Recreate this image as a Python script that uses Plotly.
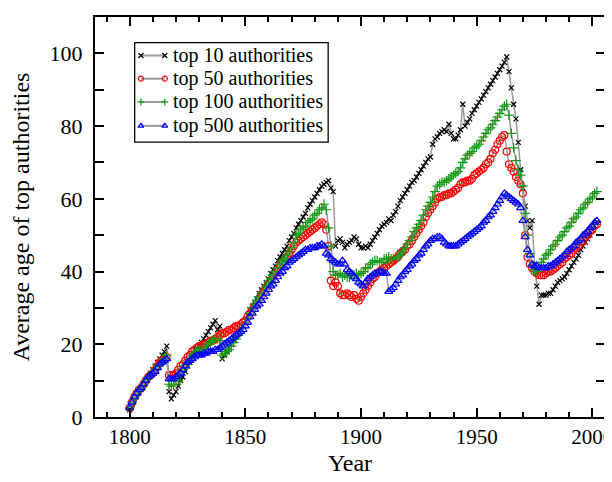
import plotly.graph_objects as go

years = list(range(1800, 2003))

top10 = [
    2, 3.5, 5, 6, 7, 8, 9, 10, 11, 12,
    13, 14, 15, 16, 17, 18, 19.5, 7, 5, 6,
    7, 8.5, 10, 11, 12.5, 14, 15, 16.5, 17.5, 18.5,
    19.5, 20.5, 21.5, 22.5, 23.5, 24.5, 25.5, 26.5, 24, 25,
    16, 17, 18, 19, 20, 21, 22, 23, 24, 25,
    26.5, 28, 29.5, 30.5, 31.5, 32.5, 34, 35, 36, 37,
    38, 39.5, 40.5, 41.5, 43, 44, 45, 46, 47, 48.5,
    49.5, 50.5, 52, 53, 54, 55, 56, 57.5, 58.5, 59.5,
    60.5, 61.5, 62.5, 63.5, 64, 64.5, 65, 63, 62, 47,
    48.5, 49, 48, 46.5, 47.5, 48, 48.5, 49.5, 49, 47.5,
    46.5, 46.5, 47, 46.5, 47.5, 48.5, 49.5, 50.5, 51.5, 52.5,
    53, 53.5, 54.5, 54, 55.5, 56.5, 58, 59.5, 60.5, 61.5,
    62.5, 63.5, 64.5, 65, 66, 67, 68, 69, 70, 71,
    71.5, 75, 76.5, 77, 78, 78.5, 79, 78.5, 80.5, 78,
    76.5, 76.5, 77.5, 79, 86, 80, 81, 82, 83.5, 84.5,
    85.5, 86.5, 87.5, 88.5, 89.5, 90.5, 91.5, 92.5, 93.5, 94.5,
    95.5, 96.5, 97.5, 99, 95, 90.5, 86, 82, 75.5, 68,
    63, 58, 54, 52, 54, 42, 36, 31, 33.5, 33.5,
    33.5, 34, 34, 35, 36, 37, 37.5, 38, 38.5, 39.5,
    40.5, 41.5, 42.5, 43.5, 44.5, 46, 47, 48, 49, 50,
    51.5, 52.5, 53.5,
]

top50 = [
    2.5, 4, 5.5, 6.5, 7.5, 8, 9, 10, 11, 11.5,
    12, 13, 14, 15, 15.5, 16, 16.5, 11.5, 11.5, 11.5,
    12, 13, 14, 14.5, 15.5, 16.5, 17, 18, 18.5, 19,
    19.5, 19.5, 20, 20, 20.5, 21, 21, 21.5, 22, 22.5,
    23, 23, 23.5, 24, 24, 24.5, 25, 25, 25.5, 26,
    26.5, 27.5, 28.5, 29.5, 30.5, 31.5, 32.5, 33.5, 34.5, 35.5,
    36.5, 37.5, 38.5, 39.5, 40.5, 41.5, 42.5, 43.5, 44, 45,
    46, 47, 48, 48.5, 49, 49.5, 50, 50.5, 51, 51.5,
    52, 52.5, 53, 53.5, 53, 51.5, 47, 37.5, 36, 37,
    36, 34, 33.5, 33.5, 34, 33.5, 33, 33.5, 32.5, 32,
    33, 34, 35, 36, 37, 38, 38.5, 39.5, 40, 40.5,
    41, 41.5, 42, 42.5, 43, 43.5, 44, 45, 45.5, 46,
    47, 47.5, 48.5, 49.5, 50.5, 51.5, 52.5, 53.5, 55, 56,
    57, 58, 59, 60, 60.5, 60.5, 61, 61, 61.5, 61.5,
    62, 62.5, 63, 64, 64.5, 64.5, 65, 65, 65.5, 66.5,
    67, 67.5, 68, 68.5, 69.5, 70, 71, 72.5, 73.5, 75,
    76, 77, 77.5, 73, 69.5, 68.5, 67.5, 66, 65, 64,
    61.5, 50, 44, 42, 41, 40, 39.5, 39, 39, 39,
    39.5, 40, 40, 40.5, 41, 41.5, 42, 42.5, 43.5, 44,
    44.5, 45, 46, 46.5, 47, 48, 48.5, 49.5, 50, 51,
    51.5, 52.5, 53,
]

top100 = [
    2.5, 4, 5, 6, 7, 8, 9, 10, 11, 11.5,
    12, 13, 14, 14.5, 15, 16, 17, 9, 8.5, 9,
    10, 10, 11.5, 13, 14, 15, 16, 17, 17.5, 18,
    18.5, 18.5, 19, 19.5, 20, 20.5, 21, 21.5, 21.5, 21,
    17, 17.5, 18, 18.5, 19.5, 20.5, 21.5, 22.5, 23.5, 24.5,
    25.5, 27, 28.5, 30, 31, 32, 33, 34, 35, 36,
    37, 38, 39, 40, 41, 42, 43, 43.5, 44.5, 45.5,
    46.5, 48, 50, 50.5, 51.5, 52, 52.5, 53.5, 54, 54.5,
    55.5, 56, 57, 57.5, 58.5, 57, 52, 47, 40, 39,
    39, 39.5, 38.5, 39, 38.5, 38.5, 39, 39, 39.5, 39,
    39.5, 40, 41, 41, 42, 42.5, 43, 43, 42.5, 42.5,
    43.5, 43.5, 44, 43.5, 43.5, 44, 44, 44.5, 45.5, 46.5,
    47.5, 48.5, 49.5, 51, 52, 53, 54, 55.5, 57, 58,
    59, 60.5, 62, 63.5, 64, 64.5, 64.5, 65, 65.5, 66,
    66.5, 67, 67.5, 68.5, 70, 71, 72, 72.5, 73, 74,
    74.5, 75, 76, 77, 78, 79, 79.5, 80.5, 81.5, 82.5,
    83.5, 84.5, 85.5, 86, 83, 78, 74, 70.5, 68, 66.5,
    63.5, 56, 50, 45, 41.5, 40.5, 40, 41, 42.5, 43.5,
    44.5, 45, 46, 47, 47.5, 48.5, 49.5, 50, 51, 52,
    52.5, 53.5, 54.5, 55, 56, 57, 57.5, 58.5, 59, 60,
    60.5, 61.5, 62,
]

top500 = [
    2.5, 4, 5.5, 6.5, 7.5, 8, 9, 10, 11, 11.5,
    12, 12.5, 13.5, 14.5, 15, 15.5, 16, 10.5, 10.5, 10.5,
    11, 11.5, 12, 13, 14, 15, 15.5, 16, 16.5, 17,
    17, 17, 17.5, 17.5, 18, 18, 18, 18.5, 18.5, 19,
    19.5, 20, 20.5, 21, 21.5, 22, 22.5, 23, 23.5, 24,
    25, 26, 27.5, 28.5, 29.5, 30.5, 31, 32, 33, 34,
    35, 36, 36.5, 37.5, 38.5, 39.5, 40, 41, 41.5, 42.5,
    43, 43.5, 44, 44.5, 45, 45.5, 46, 46, 46.5, 46.5,
    46.5, 47, 47, 47.5, 47, 45, 44.5, 43.5, 43, 42.5,
    42, 42, 43, 42, 40.5, 40, 39.5, 38.5, 38, 37,
    36.5, 36, 37, 38, 38.5, 39, 39.5, 39.5, 40, 40,
    39.5, 39.5, 34.5, 35, 35.5, 36.5, 37.5, 38.5, 39, 40,
    40.5, 41.5, 42, 43, 43.5, 44.5, 45, 46, 47, 47.5,
    48.5, 49, 49, 49.5, 49.5, 49, 48, 47.5, 47, 47,
    47, 47, 47.5, 48, 48.5, 49, 49.5, 50, 50.5, 51,
    51.5, 52, 52.5, 53.5, 54, 55, 55.5, 56.5, 57.5, 58.5,
    59.5, 60.5, 61.5, 61, 60.5, 60, 59.5, 59, 58.5, 57.5,
    54, 49.5, 46, 44.5, 42, 41.5, 41.5, 41, 41, 41,
    41, 41.5, 41.5, 42, 42.5, 43, 43.5, 44, 44.5, 45.5,
    46, 46.5, 47, 48, 48.5, 49, 50, 50.5, 51, 52,
    52.5, 53.5, 54,
]

series_names = ["top 10 authorities", "top 50 authorities",
                "top 100 authorities", "top 500 authorities"]
series_values = [top10, top50, top100, top500]
symbols = ["x-thin-open", "circle-open", "cross-thin-open", "triangle-up-open"]
colors = ["black", "red", "#119911", "blue"]
sizes = [5, 7, 7, 7]
LINE_GRAY = "#9a9a9a"
SERIF = "Liberation Serif, Times New Roman, serif"

fig = go.Figure()
for name, vals, sym, col, sz in zip(series_names, series_values, symbols, colors, sizes):
    fig.add_trace(go.Scatter(
        x=years, y=vals, name=name, mode="lines+markers",
        line=dict(color=LINE_GRAY, width=1.5),
        marker=dict(symbol=sym, size=sz, color=col,
                    line=dict(color=col, width=1.2)),
        showlegend=False,
    ))

# hand-made legend (sample line with a marker at each end, like the original)
leg_x0, leg_x1 = 0.0778, 0.4572
leg_y0, leg_y1 = 0.687, 0.936
row_y = [0.9037, 0.8458, 0.7876, 0.7279]
samp_x = [0.0901, 0.1368]
text_x = 0.1484

fig.add_shape(type="rect", xref="paper", yref="paper",
              x0=leg_x0, x1=leg_x1, y0=leg_y0, y1=leg_y1,
              line=dict(color="black", width=1.3), fillcolor="white", layer="below")
for i, (name, sym, col) in enumerate(zip(series_names, symbols, colors)):
    fig.add_trace(go.Scatter(
        x=samp_x, y=[row_y[i], row_y[i]], xaxis="x2", yaxis="y2",
        mode="lines+markers", showlegend=False, hoverinfo="skip",
        line=dict(color=LINE_GRAY, width=2),
        marker=dict(symbol=sym, size=5, color=col, line=dict(color=col, width=1.2)),
    ))
    fig.add_annotation(xref="paper", yref="paper", x=text_x, y=row_y[i],
                       xanchor="left", yanchor="middle", showarrow=False,
                       text=name, font=dict(family=SERIF, size=20, color="black"))

fig.update_layout(
    width=612, height=482,
    margin=dict(l=87, r=11, t=7, b=73),
    paper_bgcolor="white", plot_bgcolor="white",
    font=dict(family=SERIF, size=22, color="black"),
    showlegend=False,
    xaxis=dict(
        range=[1785, 2005.5], showgrid=False, zeroline=False,
        showline=True, linecolor="black", linewidth=2, mirror="ticks",
        ticks="inside", ticklen=9, tickwidth=1.5, tickcolor="black",
        dtick=50, tick0=1800,
        minor=dict(ticks="inside", ticklen=5, dtick=10, tickwidth=1.5, tickcolor="black"),
        tickfont=dict(family=SERIF, size=21),
        title=dict(text="Year", font=dict(family=SERIF, size=24), standoff=6),
    ),
    yaxis=dict(
        range=[0, 110], showgrid=False, zeroline=False,
        showline=True, linecolor="black", linewidth=2, mirror="ticks",
        ticks="inside", ticklen=9, tickwidth=1.5, tickcolor="black",
        dtick=20, tick0=0,
        minor=dict(ticks="inside", ticklen=9, dtick=10, tickwidth=1.5, tickcolor="black"),
        tickfont=dict(family=SERIF, size=22),
        ticklabelstandoff=6,
        title=dict(text="Average age of top authorities", font=dict(family=SERIF, size=24), standoff=14),
    ),
    xaxis2=dict(overlaying="x", range=[0, 1], visible=False, domain=[0, 1]),
    yaxis2=dict(overlaying="y", range=[0, 1], visible=False, domain=[0, 1]),
)

fig.write_html("out.html")
